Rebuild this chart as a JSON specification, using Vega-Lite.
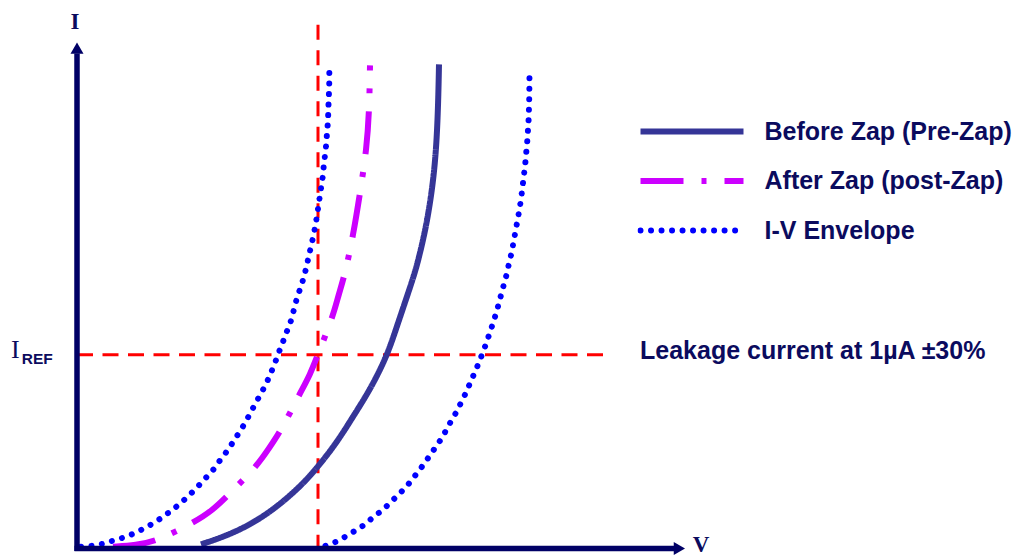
{
  "$schema": "https://vega.github.io/schema/vega-lite/v6.json",
  "width": 1016,
  "height": 559,
  "autosize": {"type": "fit", "contains": "padding"},
  "padding": 0,
  "background": "white",
  "config": {"view": {"stroke": null}},
  "data": {"values": [{}]},
  "datasets": {
    "curves": [
      {"series": "Before Zap (Pre-Zap)", "curve": "pre", "v": 201, "i": 9.7},
      {"series": "Before Zap (Pre-Zap)", "curve": "pre", "v": 233.3, "i": 20.7},
      {"series": "Before Zap (Pre-Zap)", "curve": "pre", "v": 266.7, "i": 39},
      {"series": "Before Zap (Pre-Zap)", "curve": "pre", "v": 300, "i": 67.3},
      {"series": "Before Zap (Pre-Zap)", "curve": "pre", "v": 318.3, "i": 88.5},
      {"series": "Before Zap (Pre-Zap)", "curve": "pre", "v": 336.7, "i": 112.3},
      {"series": "Before Zap (Pre-Zap)", "curve": "pre", "v": 353.3, "i": 139},
      {"series": "Before Zap (Pre-Zap)", "curve": "pre", "v": 370, "i": 165.7},
      {"series": "Before Zap (Pre-Zap)", "curve": "pre", "v": 386.7, "i": 199},
      {"series": "Before Zap (Pre-Zap)", "curve": "pre", "v": 396.7, "i": 229},
      {"series": "Before Zap (Pre-Zap)", "curve": "pre", "v": 406.7, "i": 259},
      {"series": "Before Zap (Pre-Zap)", "curve": "pre", "v": 413.3, "i": 279},
      {"series": "Before Zap (Pre-Zap)", "curve": "pre", "v": 418, "i": 295},
      {"series": "Before Zap (Pre-Zap)", "curve": "pre", "v": 426.7, "i": 332.3},
      {"series": "Before Zap (Pre-Zap)", "curve": "pre", "v": 433.3, "i": 375.7},
      {"series": "Before Zap (Pre-Zap)", "curve": "pre", "v": 436.7, "i": 415.7},
      {"series": "Before Zap (Pre-Zap)", "curve": "pre", "v": 438.3, "i": 459},
      {"series": "Before Zap (Pre-Zap)", "curve": "pre", "v": 439, "i": 494},

      {"series": "After Zap (post-Zap)", "curve": "post", "v": 113, "i": 7.3},
      {"series": "After Zap (post-Zap)", "curve": "post", "v": 136, "i": 9},
      {"series": "After Zap (post-Zap)", "curve": "post", "v": 156.7, "i": 13},
      {"series": "After Zap (post-Zap)", "curve": "post", "v": 195, "i": 32.3},
      {"series": "After Zap (post-Zap)", "curve": "post", "v": 212.3, "i": 44},
      {"series": "After Zap (post-Zap)", "curve": "post", "v": 226.7, "i": 58},
      {"series": "After Zap (post-Zap)", "curve": "post", "v": 256.7, "i": 88.3},
      {"series": "After Zap (post-Zap)", "curve": "post", "v": 269, "i": 106.7},
      {"series": "After Zap (post-Zap)", "curve": "post", "v": 281.7, "i": 125.7},
      {"series": "After Zap (post-Zap)", "curve": "post", "v": 300, "i": 162.3},
      {"series": "After Zap (post-Zap)", "curve": "post", "v": 310, "i": 180.7},
      {"series": "After Zap (post-Zap)", "curve": "post", "v": 318.3, "i": 202.3},
      {"series": "After Zap (post-Zap)", "curve": "post", "v": 333.3, "i": 240.7},
      {"series": "After Zap (post-Zap)", "curve": "post", "v": 338.3, "i": 260.7},
      {"series": "After Zap (post-Zap)", "curve": "post", "v": 345, "i": 282.3},
      {"series": "After Zap (post-Zap)", "curve": "post", "v": 353.3, "i": 322.3},
      {"series": "After Zap (post-Zap)", "curve": "post", "v": 360, "i": 364},
      {"series": "After Zap (post-Zap)", "curve": "post", "v": 366.7, "i": 409},
      {"series": "After Zap (post-Zap)", "curve": "post", "v": 369.3, "i": 449},
      {"series": "After Zap (post-Zap)", "curve": "post", "v": 370, "i": 493},

      {"series": "I-V Envelope", "curve": "envL", "v": 81, "i": 7.3},
      {"series": "I-V Envelope", "curve": "envL", "v": 92.7, "i": 8.3},
      {"series": "I-V Envelope", "curve": "envL", "v": 104, "i": 10.5},
      {"series": "I-V Envelope", "curve": "envL", "v": 114.5, "i": 14},
      {"series": "I-V Envelope", "curve": "envL", "v": 125, "i": 17},
      {"series": "I-V Envelope", "curve": "envL", "v": 135.3, "i": 21.3},
      {"series": "I-V Envelope", "curve": "envL", "v": 145.7, "i": 26.7},
      {"series": "I-V Envelope", "curve": "envL", "v": 155.5, "i": 32.3},
      {"series": "I-V Envelope", "curve": "envL", "v": 165, "i": 39},
      {"series": "I-V Envelope", "curve": "envL", "v": 174, "i": 45.7},
      {"series": "I-V Envelope", "curve": "envL", "v": 182.5, "i": 53},
      {"series": "I-V Envelope", "curve": "envL", "v": 190.7, "i": 60.7},
      {"series": "I-V Envelope", "curve": "envL", "v": 198.7, "i": 69},
      {"series": "I-V Envelope", "curve": "envL", "v": 206, "i": 77},
      {"series": "I-V Envelope", "curve": "envL", "v": 213.5, "i": 85.3},
      {"series": "I-V Envelope", "curve": "envL", "v": 220, "i": 94.5},
      {"series": "I-V Envelope", "curve": "envL", "v": 227.2, "i": 104},
      {"series": "I-V Envelope", "curve": "envL", "v": 233.3, "i": 113.3},
      {"series": "I-V Envelope", "curve": "envL", "v": 239.3, "i": 122.8},
      {"series": "I-V Envelope", "curve": "envL", "v": 245.3, "i": 132.5},
      {"series": "I-V Envelope", "curve": "envL", "v": 250.7, "i": 143},
      {"series": "I-V Envelope", "curve": "envL", "v": 256, "i": 153},
      {"series": "I-V Envelope", "curve": "envL", "v": 261.3, "i": 162.3},
      {"series": "I-V Envelope", "curve": "envL", "v": 266.7, "i": 173},
      {"series": "I-V Envelope", "curve": "envL", "v": 271, "i": 183},
      {"series": "I-V Envelope", "curve": "envL", "v": 275.3, "i": 193.7},
      {"series": "I-V Envelope", "curve": "envL", "v": 279.3, "i": 204.7},
      {"series": "I-V Envelope", "curve": "envL", "v": 283.3, "i": 215},
      {"series": "I-V Envelope", "curve": "envL", "v": 287.3, "i": 225.7},
      {"series": "I-V Envelope", "curve": "envL", "v": 291.3, "i": 236.3},
      {"series": "I-V Envelope", "curve": "envL", "v": 297.3, "i": 259.7},
      {"series": "I-V Envelope", "curve": "envL", "v": 300.7, "i": 269},
      {"series": "I-V Envelope", "curve": "envL", "v": 304, "i": 279.7},
      {"series": "I-V Envelope", "curve": "envL", "v": 306.7, "i": 290.7},
      {"series": "I-V Envelope", "curve": "envL", "v": 309, "i": 301.7},
      {"series": "I-V Envelope", "curve": "envL", "v": 311.7, "i": 313},
      {"series": "I-V Envelope", "curve": "envL", "v": 314, "i": 324},
      {"series": "I-V Envelope", "curve": "envL", "v": 316, "i": 335},
      {"series": "I-V Envelope", "curve": "envL", "v": 317.7, "i": 346.3},
      {"series": "I-V Envelope", "curve": "envL", "v": 319.3, "i": 357.3},
      {"series": "I-V Envelope", "curve": "envL", "v": 321, "i": 369},
      {"series": "I-V Envelope", "curve": "envL", "v": 322.7, "i": 380.3},
      {"series": "I-V Envelope", "curve": "envL", "v": 323.7, "i": 391.3},
      {"series": "I-V Envelope", "curve": "envL", "v": 325, "i": 402.3},
      {"series": "I-V Envelope", "curve": "envL", "v": 326.3, "i": 413.7},
      {"series": "I-V Envelope", "curve": "envL", "v": 327, "i": 425},
      {"series": "I-V Envelope", "curve": "envL", "v": 328, "i": 436.3},
      {"series": "I-V Envelope", "curve": "envL", "v": 328.3, "i": 447.7},
      {"series": "I-V Envelope", "curve": "envL", "v": 328.7, "i": 459},
      {"series": "I-V Envelope", "curve": "envL", "v": 329.2, "i": 470.7},
      {"series": "I-V Envelope", "curve": "envL", "v": 329.3, "i": 482},
      {"series": "I-V Envelope", "curve": "envL", "v": 329.4, "i": 493.3},

      {"series": "I-V Envelope", "curve": "envR", "v": 325.5, "i": 8.3},
      {"series": "I-V Envelope", "curve": "envR", "v": 336, "i": 12.3},
      {"series": "I-V Envelope", "curve": "envR", "v": 346.7, "i": 18.3},
      {"series": "I-V Envelope", "curve": "envR", "v": 356, "i": 24},
      {"series": "I-V Envelope", "curve": "envR", "v": 365.3, "i": 30},
      {"series": "I-V Envelope", "curve": "envR", "v": 374, "i": 38},
      {"series": "I-V Envelope", "curve": "envR", "v": 382.7, "i": 44.3},
      {"series": "I-V Envelope", "curve": "envR", "v": 390.7, "i": 52.3},
      {"series": "I-V Envelope", "curve": "envR", "v": 398.7, "i": 60},
      {"series": "I-V Envelope", "curve": "envR", "v": 406.7, "i": 68.3},
      {"series": "I-V Envelope", "curve": "envR", "v": 413.7, "i": 77.3},
      {"series": "I-V Envelope", "curve": "envR", "v": 420.7, "i": 86.3},
      {"series": "I-V Envelope", "curve": "envR", "v": 427.3, "i": 95.7},
      {"series": "I-V Envelope", "curve": "envR", "v": 433.7, "i": 105},
      {"series": "I-V Envelope", "curve": "envR", "v": 440, "i": 114.3},
      {"series": "I-V Envelope", "curve": "envR", "v": 445.7, "i": 124},
      {"series": "I-V Envelope", "curve": "envR", "v": 451, "i": 134},
      {"series": "I-V Envelope", "curve": "envR", "v": 456.7, "i": 143.7},
      {"series": "I-V Envelope", "curve": "envR", "v": 461.7, "i": 154},
      {"series": "I-V Envelope", "curve": "envR", "v": 466.7, "i": 164.3},
      {"series": "I-V Envelope", "curve": "envR", "v": 471, "i": 174.7},
      {"series": "I-V Envelope", "curve": "envR", "v": 475.7, "i": 185.3},
      {"series": "I-V Envelope", "curve": "envR", "v": 480, "i": 196},
      {"series": "I-V Envelope", "curve": "envR", "v": 484, "i": 206.3},
      {"series": "I-V Envelope", "curve": "envR", "v": 487.7, "i": 217},
      {"series": "I-V Envelope", "curve": "envR", "v": 491.3, "i": 227.7},
      {"series": "I-V Envelope", "curve": "envR", "v": 494.7, "i": 238.3},
      {"series": "I-V Envelope", "curve": "envR", "v": 498, "i": 249.7},
      {"series": "I-V Envelope", "curve": "envR", "v": 500.7, "i": 260},
      {"series": "I-V Envelope", "curve": "envR", "v": 503.7, "i": 271.3},
      {"series": "I-V Envelope", "curve": "envR", "v": 506.7, "i": 282.3},
      {"series": "I-V Envelope", "curve": "envR", "v": 509, "i": 293.3},
      {"series": "I-V Envelope", "curve": "envR", "v": 511.7, "i": 304.3},
      {"series": "I-V Envelope", "curve": "envR", "v": 513.7, "i": 315.7},
      {"series": "I-V Envelope", "curve": "envR", "v": 515.7, "i": 326.7},
      {"series": "I-V Envelope", "curve": "envR", "v": 517.7, "i": 337.7},
      {"series": "I-V Envelope", "curve": "envR", "v": 519.7, "i": 349},
      {"series": "I-V Envelope", "curve": "envR", "v": 521.3, "i": 360.3},
      {"series": "I-V Envelope", "curve": "envR", "v": 522.7, "i": 371.7},
      {"series": "I-V Envelope", "curve": "envR", "v": 524, "i": 383},
      {"series": "I-V Envelope", "curve": "envR", "v": 525.3, "i": 394.3},
      {"series": "I-V Envelope", "curve": "envR", "v": 526.3, "i": 405.7},
      {"series": "I-V Envelope", "curve": "envR", "v": 527.3, "i": 417},
      {"series": "I-V Envelope", "curve": "envR", "v": 528, "i": 428.3},
      {"series": "I-V Envelope", "curve": "envR", "v": 528.7, "i": 439.7},
      {"series": "I-V Envelope", "curve": "envR", "v": 529, "i": 451},
      {"series": "I-V Envelope", "curve": "envR", "v": 529.3, "i": 462.3},
      {"series": "I-V Envelope", "curve": "envR", "v": 529.4, "i": 473.7},
      {"series": "I-V Envelope", "curve": "envR", "v": 529.5, "i": 485}
    ]
  },
  "layer": [
    {
      "mark": {"type": "rule", "color": "#ff0000", "strokeWidth": 3, "strokeDash": [16, 9.5]},
      "encoding": {
        "x": {"datum": 77, "type": "quantitative", "scale": {"domain": [0, 1016], "nice": false, "zero": false}, "axis": null},
        "x2": {"datum": 612},
        "y": {"datum": 201, "type": "quantitative", "scale": {"domain": [0, 559], "nice": false, "zero": false}, "axis": null}
      }
    },
    {
      "mark": {"type": "rule", "color": "#ff0000", "strokeWidth": 3, "strokeDash": [15, 10.5]},
      "encoding": {
        "x": {"datum": 318, "type": "quantitative", "scale": {"domain": [0, 1016], "nice": false, "zero": false}, "axis": null},
        "y": {"datum": 534, "type": "quantitative", "scale": {"domain": [0, 559], "nice": false, "zero": false}, "axis": null},
        "y2": {"datum": 6}
      }
    },
    {
      "data": {"name": "curves"},
      "transform": [{"filter": "datum.curve === 'pre' || datum.curve === 'post'"}],
      "mark": {"type": "line", "strokeCap": "butt", "interpolate": "basis"},
      "encoding": {
        "x": {"field": "v", "type": "quantitative", "scale": {"domain": [0, 1016], "nice": false, "zero": false}, "axis": null},
        "y": {"field": "i", "type": "quantitative", "scale": {"domain": [0, 559], "nice": false, "zero": false}, "axis": null},
        "detail": {"field": "curve"},
        "order": {"field": "i", "type": "quantitative"},
        "color": {
          "field": "series", "type": "nominal",
          "scale": {"domain": ["Before Zap (Pre-Zap)", "After Zap (post-Zap)", "I-V Envelope"], "range": ["#353597", "#cc00ff", "#0000ff"]},
          "legend": {
            "orient": "none", "legendX": 637.5, "legendY": 119.5, "title": null, "padding": 0,
            "symbolType": "stroke", "symbolSize": 10609, "clipHeight": 24,
            "labelFont": "Liberation Sans", "labelFontWeight": "bold", "labelFontSize": 25, "labelColor": "#0b0b5e",
            "labelOffset": 18, "rowPadding": 24.5, "labelLimit": 500,
            "encode": {
              "symbols": {"update": {"strokeCap": {"signal": "datum.value === 'I-V Envelope' ? 'round' : 'butt'"}}}
            }
          }
        },
        "strokeDash": {
          "field": "series", "type": "nominal",
          "scale": {"domain": ["Before Zap (Pre-Zap)", "After Zap (post-Zap)", "I-V Envelope"], "range": [[1, 0], [43, 18, 5, 18], [0.01, 10.5]]}
        },
        "strokeWidth": {
          "field": "series", "type": "nominal",
          "scale": {"domain": ["Before Zap (Pre-Zap)", "After Zap (post-Zap)", "I-V Envelope"], "range": [6, 6, 5]}
        }
      }
    },
    {
      "data": {"name": "curves"},
      "transform": [{"filter": "datum.curve === 'envL' || datum.curve === 'envR'"}],
      "mark": {"type": "line", "strokeCap": "round", "interpolate": "linear"},
      "encoding": {
        "x": {"field": "v", "type": "quantitative", "scale": {"domain": [0, 1016], "nice": false, "zero": false}, "axis": null},
        "y": {"field": "i", "type": "quantitative", "scale": {"domain": [0, 559], "nice": false, "zero": false}, "axis": null},
        "detail": {"field": "curve"},
        "order": {"field": "i", "type": "quantitative"},
        "color": {"field": "series", "type": "nominal", "scale": {"domain": ["Before Zap (Pre-Zap)", "After Zap (post-Zap)", "I-V Envelope"], "range": ["#353597", "#cc00ff", "#0000ff"]}},
        "strokeDash": {"field": "series", "type": "nominal", "scale": {"domain": ["Before Zap (Pre-Zap)", "After Zap (post-Zap)", "I-V Envelope"], "range": [[1, 0], [43, 18, 5, 18], [0.01, 10.5]]}},
        "strokeWidth": {"field": "series", "type": "nominal", "scale": {"domain": ["Before Zap (Pre-Zap)", "After Zap (post-Zap)", "I-V Envelope"], "range": [6, 6, 5]}}
      }
    },
    {
      "mark": {"type": "rule", "color": "#000066", "strokeWidth": 5.5},
      "encoding": {
        "x": {"datum": 77, "type": "quantitative", "scale": {"domain": [0, 1016], "nice": false, "zero": false}, "axis": null},
        "y": {"datum": 3, "type": "quantitative", "scale": {"domain": [0, 559], "nice": false, "zero": false}, "axis": null},
        "y2": {"datum": 505}
      }
    },
    {
      "mark": {"type": "rule", "color": "#000066", "strokeWidth": 5.5},
      "encoding": {
        "x": {"datum": 74.5, "type": "quantitative", "scale": {"domain": [0, 1016], "nice": false, "zero": false}, "axis": null},
        "x2": {"datum": 676},
        "y": {"datum": 5.5, "type": "quantitative", "scale": {"domain": [0, 559], "nice": false, "zero": false}, "axis": null}
      }
    },
    {
      "mark": {"type": "point", "shape": "triangle-up", "filled": true, "color": "#000066", "opacity": 1, "size": 169},
      "encoding": {
        "x": {"datum": 77, "type": "quantitative", "scale": {"domain": [0, 1016], "nice": false, "zero": false}, "axis": null},
        "y": {"datum": 510.4, "type": "quantitative", "scale": {"domain": [0, 559], "nice": false, "zero": false}, "axis": null}
      }
    },
    {
      "mark": {"type": "point", "shape": "triangle-right", "filled": true, "color": "#000066", "opacity": 1, "size": 169},
      "encoding": {
        "x": {"datum": 679.4, "type": "quantitative", "scale": {"domain": [0, 1016], "nice": false, "zero": false}, "axis": null},
        "y": {"datum": 5.5, "type": "quantitative", "scale": {"domain": [0, 559], "nice": false, "zero": false}, "axis": null}
      }
    },
    {
      "mark": {"type": "text", "text": "I", "font": "Liberation Serif", "fontWeight": "bold", "fontSize": 23, "color": "#0b0b5e", "align": "center", "baseline": "alphabetic"},
      "encoding": {
        "x": {"datum": 75, "type": "quantitative", "scale": {"domain": [0, 1016], "nice": false, "zero": false}, "axis": null},
        "y": {"datum": 530, "type": "quantitative", "scale": {"domain": [0, 559], "nice": false, "zero": false}, "axis": null}
      }
    },
    {
      "mark": {"type": "text", "text": "V", "font": "Liberation Serif", "fontWeight": "bold", "fontSize": 23, "color": "#0b0b5e", "align": "center", "baseline": "alphabetic"},
      "encoding": {
        "x": {"datum": 701, "type": "quantitative", "scale": {"domain": [0, 1016], "nice": false, "zero": false}, "axis": null},
        "y": {"datum": 2.3, "type": "quantitative", "scale": {"domain": [0, 559], "nice": false, "zero": false}, "axis": null}
      }
    },
    {
      "mark": {"type": "text", "text": "I", "font": "Liberation Serif", "fontWeight": "normal", "fontSize": 26, "color": "#0b0b5e", "align": "left", "baseline": "alphabetic"},
      "encoding": {
        "x": {"datum": 11, "type": "quantitative", "scale": {"domain": [0, 1016], "nice": false, "zero": false}, "axis": null},
        "y": {"datum": 197.3, "type": "quantitative", "scale": {"domain": [0, 559], "nice": false, "zero": false}, "axis": null}
      }
    },
    {
      "mark": {"type": "text", "text": "REF", "font": "Liberation Sans", "fontWeight": "bold", "fontSize": 15.5, "color": "#0b0b5e", "align": "left", "baseline": "alphabetic"},
      "encoding": {
        "x": {"datum": 21.7, "type": "quantitative", "scale": {"domain": [0, 1016], "nice": false, "zero": false}, "axis": null},
        "y": {"datum": 191.3, "type": "quantitative", "scale": {"domain": [0, 559], "nice": false, "zero": false}, "axis": null}
      }
    },
    {
      "mark": {"type": "text", "text": "Leakage current at 1µA ±30%", "font": "Liberation Sans", "fontWeight": "bold", "fontSize": 25, "color": "#0b0b5e", "align": "left", "baseline": "alphabetic"},
      "encoding": {
        "x": {"datum": 640, "type": "quantitative", "scale": {"domain": [0, 1016], "nice": false, "zero": false}, "axis": null},
        "y": {"datum": 196.7, "type": "quantitative", "scale": {"domain": [0, 559], "nice": false, "zero": false}, "axis": null}
      }
    }
  ]
}
